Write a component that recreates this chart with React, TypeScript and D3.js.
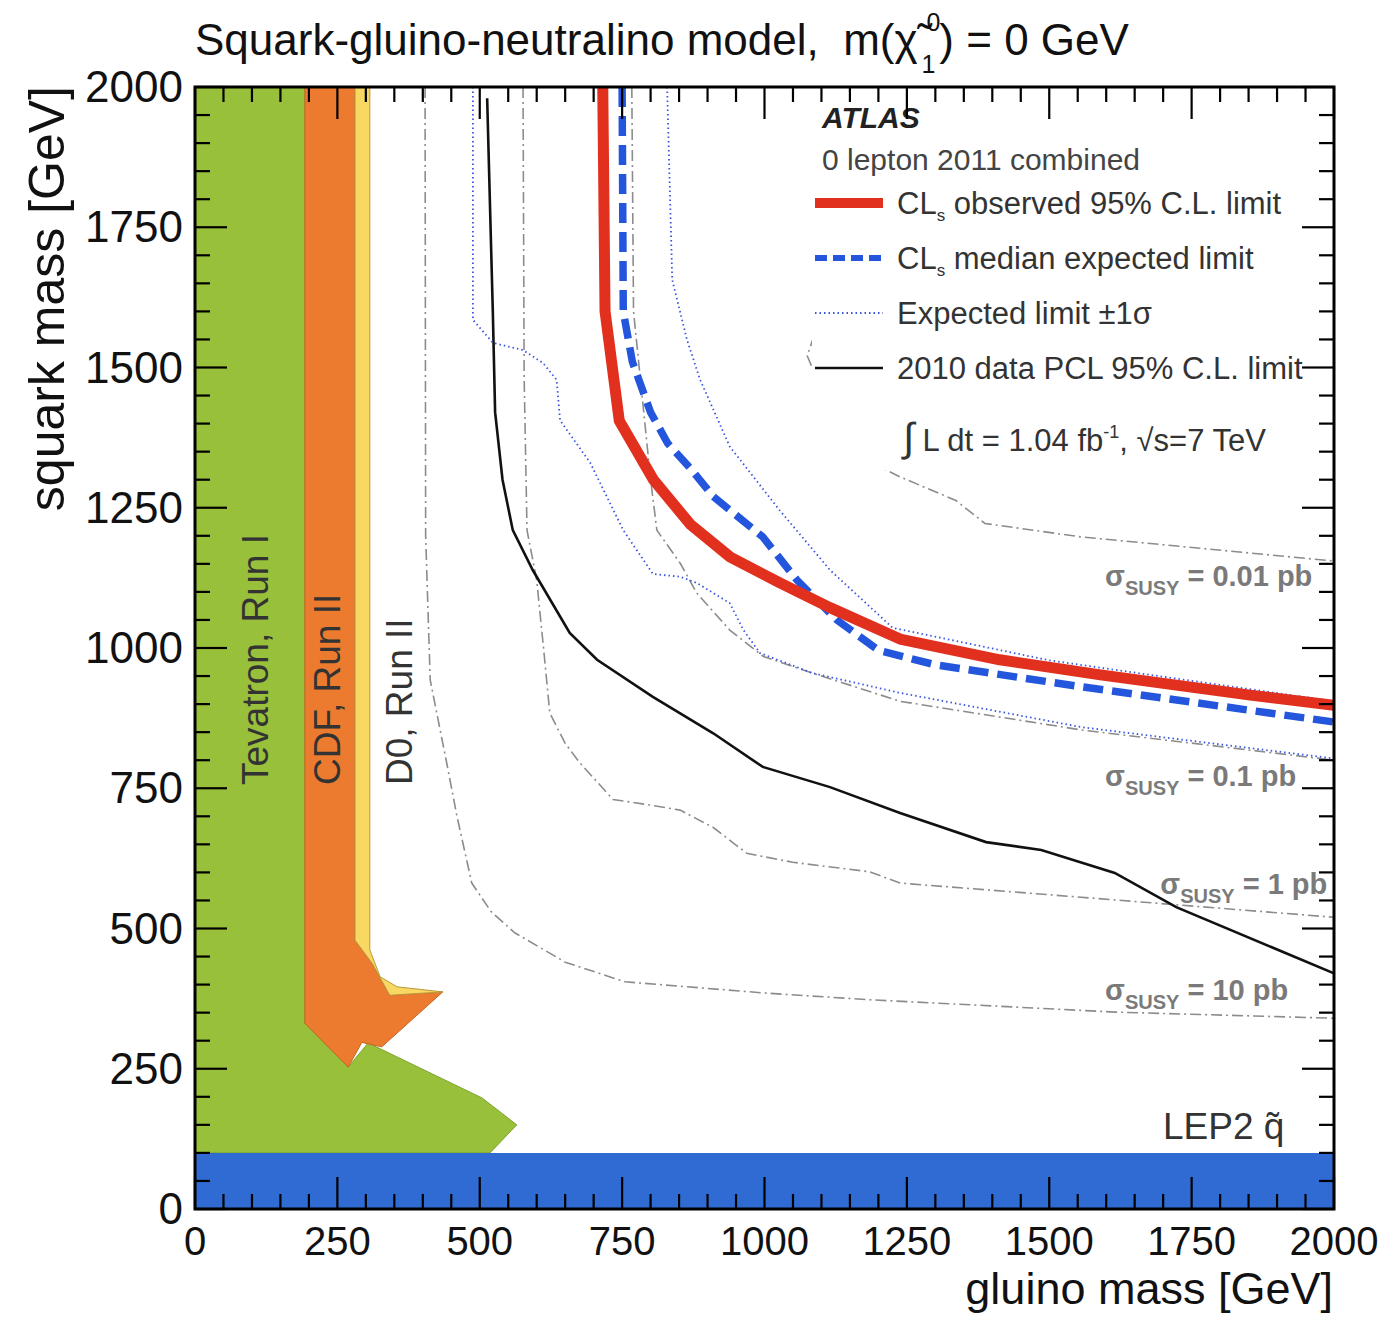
import { useEffect, useRef } from "react";
import * as d3 from "d3";

const W = 1394;
const H = 1317;

const xTickLabels = [0, 250, 500, 750, 1000, 1250, 1500, 1750, 2000];
const yTickLabels = [0, 250, 500, 750, 1000, 1250, 1500, 1750, 2000];

// excluded regions [gluino, squark]
const tevatronRun1: [number, number][] = [[0, 100], [0, 2000], [193, 2000], [193, 331], [269, 253], [304, 296], [504, 198], [565, 150], [518, 100]];
const cdfRun2: [number, number][] = [[193, 2000], [281, 2000], [281, 479], [311, 438], [342, 381], [435, 387], [328, 289], [293, 297], [269, 253], [193, 331]];
const d0Run2: [number, number][] = [[281, 2000], [307, 2000], [307, 462], [325, 414], [355, 396], [435, 387], [342, 381], [311, 438], [281, 479]];
const lep2Squark: [number, number][] = [[0, 0], [2000, 0], [2000, 100], [0, 100]];

// limit curves
const observed: [number, number][] = [[716, 2000], [720, 1600], [745, 1405], [805, 1300], [870, 1220], [940, 1162], [1027, 1116], [1115, 1072], [1238, 1016], [1413, 979], [1590, 952], [1853, 916], [2000, 898]];
const expected: [number, number][] = [[750, 2000], [752, 1600], [768, 1510], [800, 1420], [830, 1365], [870, 1320], [910, 1270], [997, 1198], [1057, 1121], [1127, 1050], [1200, 996], [1300, 970], [1556, 931], [2000, 868]];
const expectedMinus: [number, number][] = [[488, 2000], [488, 1585], [523, 1544], [576, 1531], [611, 1508], [635, 1478], [641, 1406], [694, 1330], [752, 1210], [804, 1132], [852, 1127], [881, 1116], [939, 1080], [963, 1032], [992, 991], [1085, 955], [1238, 920], [1556, 859], [2000, 803]];
const expectedPlus: [number, number][] = [[829, 2000], [838, 1656], [864, 1549], [887, 1478], [939, 1359], [1027, 1245], [1115, 1139], [1225, 1036], [1500, 978], [2000, 905]];
const pcl2010: [number, number][] = [[513, 1980], [523, 1597], [527, 1420], [540, 1300], [558, 1210], [593, 1139], [658, 1027], [706, 979], [804, 913], [910, 848], [997, 788], [1115, 752], [1238, 706], [1389, 654], [1486, 640], [1615, 599], [1723, 538], [2000, 420]];

// sigma_SUSY iso-cross-section contours
const xsec10pb: [number, number][] = [[404, 2000], [405, 1200], [413, 943], [442, 795], [460, 700], [486, 581], [520, 530], [562, 492], [650, 440], [755, 405], [1000, 385], [1185, 373], [1615, 351], [2000, 340]];
const xsec1pb: [number, number][] = [[576, 2000], [578, 1480], [583, 1210], [600, 1121], [612, 1000], [623, 884], [650, 830], [676, 795], [734, 730], [800, 720], [852, 711], [910, 680], [969, 634], [1050, 618], [1185, 601], [1238, 581], [1615, 551], [2000, 520]];
const xsec01pb: [number, number][] = [[767, 2000], [770, 1600], [785, 1450], [800, 1300], [811, 1210], [852, 1151], [881, 1098], [939, 1032], [998, 985], [1085, 955], [1238, 905], [1556, 854], [2000, 800]];
const xsec001pb: [number, number][] = [[1150, 2000], [1130, 1750], [1095, 1580], [1075, 1521], [1127, 1394], [1203, 1323], [1238, 1305], [1336, 1263], [1387, 1222], [1556, 1198], [2000, 1155]];

const xsecLabels = [
  { value: "0.01 pb", g: 1598, s: 1110 },
  { value: "0.1 pb", g: 1598, s: 754 },
  { value: "1 pb", g: 1695, s: 561 },
  { value: "10 pb", g: 1598, s: 373 },
];

const legendRows = [
  { label: "observed 95% C.L. limit", cls: true, kind: "obs" },
  { label: "median expected limit", cls: true, kind: "exp" },
  { label: "Expected limit \u00b11\u03c3", cls: false, kind: "band" },
  { label: "2010 data PCL 95% C.L. limit", cls: false, kind: "pcl" },
];

const FONT = "'Liberation Sans', Arial, Helvetica, sans-serif";

export default function App() {
  const svgRef = useRef<SVGSVGElement>(null);

  useEffect(() => {
    document.body.style.margin = "0";
    const svg = d3.select(svgRef.current);
    svg.selectAll("*").remove();

    const x = d3.scaleLinear().domain([0, 2000]).range([195, 1334]);
    const y = d3.scaleLinear().domain([0, 2000]).range([1209, 87]);

    const g = svg.append("g").attr("font-family", FONT);

    const clip = svg.append("defs").append("clipPath").attr("id", "plotclip");
    clip.append("rect").attr("x", 195).attr("y", 87).attr("width", 1139).attr("height", 1122);

    const area = g.append("g").attr("clip-path", "url(#plotclip)");
    const poly = (pts: [number, number][]) => pts.map((p) => `${x(p[0])},${y(p[1])}`).join(" ");

    area.append("polygon").attr("points", poly(tevatronRun1)).attr("fill", "#98c03b").attr("stroke", "#7ea32e").attr("stroke-width", 1);
    area.append("polygon").attr("points", poly(cdfRun2)).attr("fill", "#ec7b2f").attr("stroke", "#c8641f").attr("stroke-width", 1);
    area.append("polygon").attr("points", poly(d0Run2)).attr("fill", "#f8d762").attr("stroke", "#b89a3a").attr("stroke-width", 1);
    area.append("polygon").attr("points", poly(lep2Squark)).attr("fill", "#2f6bd2");

    const line = d3.line<[number, number]>().x((d) => x(d[0])).y((d) => y(d[1]));

    // iso cross-section lines
    [xsec10pb, xsec1pb, xsec01pb, xsec001pb].forEach((c) => {
      area.append("path").attr("d", line(c)).attr("fill", "none").attr("stroke", "#8c8c8c")
        .attr("stroke-width", 1.6).attr("stroke-dasharray", "11,4,2,4");
    });

    area.append("path").attr("d", line(pcl2010)).attr("fill", "none").attr("stroke", "#111").attr("stroke-width", 2.6);

    [expectedMinus, expectedPlus].forEach((c) => {
      area.append("path").attr("d", line(c)).attr("fill", "none").attr("stroke", "#3a55e0")
        .attr("stroke-width", 1.8).attr("stroke-dasharray", "1.5,3");
    });

    area.append("path").attr("d", line(expected)).attr("fill", "none").attr("stroke", "#2356dc")
      .attr("stroke-width", 7.5).attr("stroke-dasharray", "20,9");
    area.append("path").attr("d", line(observed)).attr("fill", "none").attr("stroke", "#e2301f")
      .attr("stroke-width", 11).attr("stroke-linejoin", "round");

    // legend
    area.append("rect").attr("x", 812).attr("y", 92).attr("width", 520).attr("height", 378).attr("fill", "#fff");

    g.append("text").attr("x", 822).attr("y", 128).attr("font-size", 30).attr("font-weight", "bold")
      .attr("font-style", "italic").attr("fill", "#222").text("ATLAS");
    g.append("text").attr("x", 822).attr("y", 170).attr("font-size", 30).attr("fill", "#444").text("0 lepton 2011 combined");

    legendRows.forEach((r, i) => {
      const yy = 203 + i * 55;
      const sample = g.append("line").attr("x1", 815).attr("x2", 883).attr("y1", yy).attr("y2", yy);
      if (r.kind === "obs") sample.attr("stroke", "#e2301f").attr("stroke-width", 10);
      if (r.kind === "exp") sample.attr("stroke", "#2356dc").attr("stroke-width", 6).attr("stroke-dasharray", "12,6");
      if (r.kind === "band") sample.attr("stroke", "#3a55e0").attr("stroke-width", 1.8).attr("stroke-dasharray", "1.5,3");
      if (r.kind === "pcl") sample.attr("stroke", "#111").attr("stroke-width", 2.6);
      const t = g.append("text").attr("x", 897).attr("y", yy + 11).attr("font-size", 31).attr("fill", "#333");
      if (r.cls) {
        t.append("tspan").text("CL");
        t.append("tspan").attr("font-size", 17).attr("dy", 7).text("s");
        t.append("tspan").attr("dy", -7).text(" " + r.label);
      } else {
        t.text(r.label);
      }
    });

    const lumi = g.append("text").attr("x", 903).attr("y", 451).attr("font-size", 31).attr("fill", "#333");
    lumi.append("tspan").attr("font-size", 40).text("\u222b");
    lumi.append("tspan").text(" L dt = 1.04 fb");
    lumi.append("tspan").attr("font-size", 18).attr("dy", -13).text("-1");
    lumi.append("tspan").attr("dy", 13).text(", \u221as=7 TeV");

    // cross-section labels
    xsecLabels.forEach((l) => {
      const t = g.append("text").attr("x", x(l.g)).attr("y", y(l.s)).attr("font-size", 29)
        .attr("font-weight", "bold").attr("fill", "#7a7a7a");
      t.append("tspan").text("\u03c3");
      t.append("tspan").attr("font-size", 20).attr("dy", 9).text("SUSY");
      t.append("tspan").attr("dy", -9).text(" = " + l.value);
    });

    g.append("text").attr("x", 1163).attr("y", 1139).attr("font-size", 37).attr("fill", "#333")
      .text("LEP2 q\u0303");

    // region labels
    [["Tevatron, Run I", 268], ["CDF, Run II", 340], ["D0, Run II", 412]].forEach(([s, px]) => {
      g.append("text").attr("transform", `translate(${px},785) rotate(-90)`).attr("font-size", 37)
        .attr("fill", "#333").text(s as string);
    });

    // ticks on all four sides
    const minor = d3.range(0, 2001, 50);
    const tickG = g.append("g").attr("stroke", "#000").attr("stroke-width", 2.2);
    minor.forEach((v) => {
      const len = v % 250 === 0 ? 32 : 15;
      tickG.append("line").attr("x1", x(v)).attr("x2", x(v)).attr("y1", y(0)).attr("y2", y(0) - len);
      tickG.append("line").attr("x1", x(v)).attr("x2", x(v)).attr("y1", y(2000)).attr("y2", y(2000) + len);
      tickG.append("line").attr("x1", x(0)).attr("x2", x(0) + len).attr("y1", y(v)).attr("y2", y(v));
      tickG.append("line").attr("x1", x(2000)).attr("x2", x(2000) - len).attr("y1", y(v)).attr("y2", y(v));
    });

    g.append("rect").attr("x", 195).attr("y", 87).attr("width", 1139).attr("height", 1122)
      .attr("fill", "none").attr("stroke", "#000").attr("stroke-width", 3);

    // tick labels
    xTickLabels.forEach((v) => {
      g.append("text").attr("x", x(v)).attr("y", 1255).attr("text-anchor", "middle")
        .attr("font-size", 40).attr("fill", "#111").text(String(v));
    });
    yTickLabels.forEach((v) => {
      g.append("text").attr("x", 183).attr("y", y(v) + 15).attr("text-anchor", "end")
        .attr("font-size", 44).attr("fill", "#111").text(String(v));
    });

    // axis titles
    g.append("text").attr("x", 1333).attr("y", 1304).attr("text-anchor", "end").attr("font-size", 45)
      .attr("fill", "#111").text("gluino mass [GeV]");
    g.append("text").attr("transform", "translate(64,86) rotate(-90)").attr("text-anchor", "end")
      .attr("font-size", 50).attr("fill", "#111").text("squark mass [GeV]");

    // title
    const title = g.append("text").attr("x", 195).attr("y", 55).attr("font-size", 44).attr("fill", "#111")
      .style("white-space", "pre");
    title.append("tspan").text("Squark-gluino-neutralino model,  m(\u03c7\u0303");
    title.append("tspan").attr("font-size", 25).attr("dx", 9).attr("dy", -24).text("0");
    title.append("tspan").attr("font-size", 25).attr("dx", -19).attr("dy", 42).text("1");
    title.append("tspan").attr("dx", 4).attr("dy", -18).text(") = 0 GeV");
  }, []);

  return <svg ref={svgRef} width={W} height={H} style={{ display: "block", background: "#fff" }} />;
}
